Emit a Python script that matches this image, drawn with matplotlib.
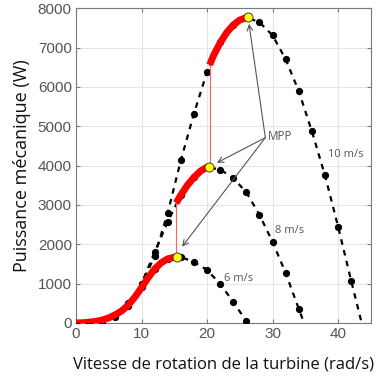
import matplotlib
matplotlib.use("Agg")
import matplotlib.pyplot as plt

# Mechanical power vs. rotor speed, sampled every 2 rad/s
w6 = [0, 2, 4, 6, 8, 10, 12, 14, 16, 18, 20, 22, 24, 26]
p6 = [0, 15, 80, 210, 470, 920, 1380, 1630, 1675, 1550, 1350, 990, 540, 40]

w8 = [0, 2, 4, 6, 8, 10, 12, 14, 16, 18, 20, 22, 24, 26, 28, 30, 32, 34, 34.8]
p8 = [0, 15, 60, 150, 420, 1000, 1800, 2570, 3250, 3700, 3960, 3900, 3680,
      3320, 2750, 2060, 1270, 360, 0]

w10 = [0, 2, 4, 6, 8, 10, 12, 14, 16, 18, 20, 22, 24, 26, 28, 30, 32, 34, 36,
       38, 40, 42, 43.6]
p10 = [0, 10, 50, 180, 500, 980, 1700, 2800, 4130, 5320, 6380, 7150, 7580,
       7770, 7640, 7310, 6700, 5890, 4870, 3750, 2450, 1070, 0]

# MPPT trajectory (thick red segments on each curve)
track1_w = [0, 1, 2, 3, 4, 5, 6, 7, 8, 9, 10, 11, 12, 13, 14, 15, 15.4]
track1_p = [0, 5, 20, 40, 75, 130, 210, 310, 460, 660, 900, 1150, 1370,
            1530, 1630, 1672, 1680]
track2_w = [15.3, 16, 17, 18, 19, 20, 20.3]
track2_p = [3050, 3250, 3500, 3700, 3860, 3960, 3975]
track3_w = [20.4, 21, 22, 23, 24, 25, 26.2]
track3_p = [6560, 6800, 7120, 7380, 7570, 7700, 7770]

# Maximum power points
mpp_w = [15.4, 20.3, 26.2]
mpp_p = [1680, 3975, 7770]

wind_labels = ["6 m/s", "8 m/s", "10 m/s"]
wind_label_pos = [(22.6, 1120), (30.3, 2350), (38.4, 4280)]

xticks = [0, 10, 20, 30, 40]
yticks = [0, 1000, 2000, 3000, 4000, 5000, 6000, 7000, 8000]

fig = plt.figure(figsize=(3.79, 3.83), dpi=100)
ax = fig.add_axes([0.2005, 0.1567, 0.778, 0.822])

frame_col = "#7a7a7a"
tick_col = "#555555"

ax.set_xlim(0, 45)
ax.set_ylim(0, 8000)
ax.set_xticks(xticks)
ax.set_yticks(yticks)
ax.grid(True, color="#e6e6e6", lw=0.8)
ax.set_axisbelow(True)
for s in ax.spines.values():
    s.set_color(frame_col)
    s.set_linewidth(0.8)
ax.tick_params(direction="in", length=3, color=frame_col, top=True,
               right=True, labelsize=11, labelcolor=tick_col, pad=3)
for lab in ax.get_xticklabels() + ax.get_yticklabels():
    lab.set_family("Liberation Sans")

# Dashed power curves with sample markers
for w, p in ((w6, p6), (w8, p8), (w10, p10)):
    n = len(w)
    mk = list(range(n)) if w[-1] % 2 == 0 else list(range(n - 1))
    ax.plot(w, p, color="black", lw=1.6, ls=(0, (2.5, 2.5)), marker="o",
            ms=4.2, markevery=mk, zorder=3)

# Operating point trajectory
ax.plot([track1_w[-1] - 0.1, track2_w[0]], [track1_p[-1], track2_p[0]],
        color="#ff6060", lw=0.8, zorder=4)
ax.plot([track3_w[0], track3_w[0]], [track2_p[-1], track3_p[0]],
        color="#ff6060", lw=0.8, zorder=4)
for w, p in ((track1_w, track1_p), (track2_w, track2_p), (track3_w, track3_p)):
    ax.plot(w, p, color="red", lw=5, solid_capstyle="butt", zorder=5)

ax.plot(mpp_w, mpp_p, ls="none", marker="o", ms=6.5, mfc="#ffff00",
        mec="#404040", mew=0.7, zorder=6)

# MPP callout arrows
hub = (28.9, 4710)
tips = [(16.2, 1940), (21.5, 4070), (26.4, 7600)]
for t in tips:
    ax.annotate("", xy=t, xytext=hub,
                arrowprops=dict(arrowstyle="->", color="#555555", lw=0.8,
                                shrinkA=0, shrinkB=0), zorder=7)
ax.text(29.3, 4740, "MPP", fontsize=8.5, color="#555555", family="Open Sans",
        va="center", ha="left", zorder=8)

for txt, (x, y) in zip(wind_labels, wind_label_pos):
    ax.text(x, y, txt, fontsize=8, color="#555555", family="Open Sans",
            va="center", ha="left", zorder=8)

ax.set_xlabel("Vitesse de rotation de la turbine (rad/s)", fontsize=12,
              family="Open Sans", color="#111111", labelpad=11)
ax.set_ylabel("Puissance mécanique (W)", fontsize=13, family="Open Sans",
              color="#111111", labelpad=5)

fig.savefig("out.png", dpi=100)
